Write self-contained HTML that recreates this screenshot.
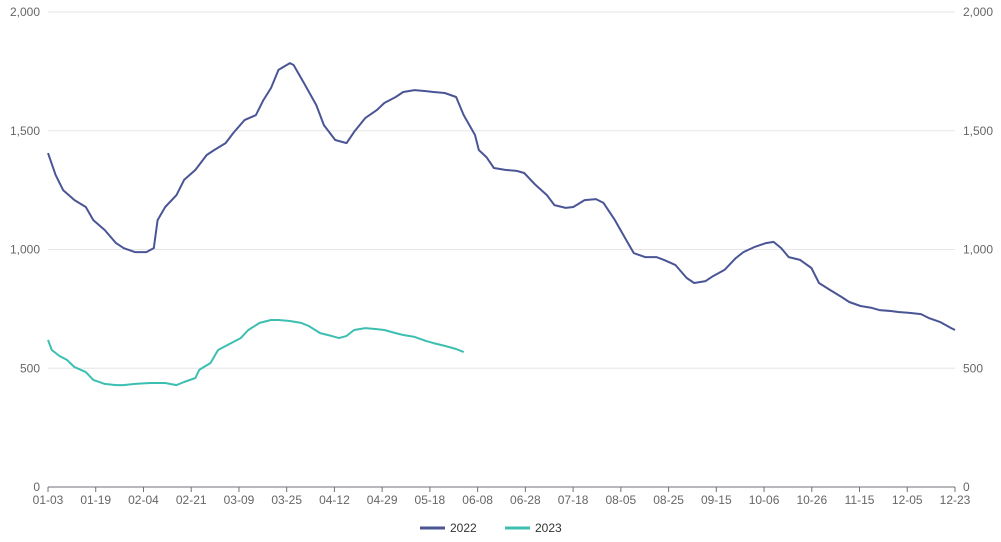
<!DOCTYPE html>
<html><head><meta charset="utf-8">
<style>
html,body{margin:0;padding:0;background:#fff;}
svg{display:block;font-family:"Liberation Sans",sans-serif;}
</style></head>
<body>
<svg id="chart" width="1001" height="542" viewBox="0 0 1001 542"></svg>
<script>
const xLabels=["01-03","01-19","02-04","02-21","03-09","03-25","04-12","04-29","05-18","06-08","06-28","07-18","08-05","08-25","09-15","10-06","10-26","11-15","12-05","12-23"];
const yTicks=[0,500,1000,1500,2000];
const yTickLabels=["0","500","1,000","1,500","2,000"];
const days2022=[0,2,4,7,10,12,15,18,20,23,26,28,29,31,34,36,39,42,44,47,49,52,55,57,59,61,64,65,68,71,73,76,79,81,84,87,89,92,94,97,100,102,105,108,110,113,114,116,118,121,124,126,129,132,134,137,139,142,145,147,150,153,155,158,161,163,166,169,171,174,176,179,182,184,187,190,192,194,196,199,202,204,207,210,212,215,218,220,223,225,228,231,233,236,239,240];
const values2022=[1406,1314,1250,1208,1179,1124,1082,1027,1006,989,989,1006,1124,1179,1229,1293,1335,1398,1419,1448,1490,1545,1566,1629,1680,1756,1785,1777,1693,1608,1524,1461,1448,1495,1554,1587,1617,1642,1663,1671,1667,1663,1659,1642,1566,1482,1419,1389,1343,1335,1331,1322,1272,1229,1187,1175,1179,1208,1212,1196,1124,1040,985,968,968,956,935,880,859,867,888,914,964,989,1011,1027,1032,1006,968,956,922,859,829,800,779,762,754,745,741,737,733,728,712,695,669,661];
const days2023=[0,1,3,5,7,10,12,15,18,20,23,27,31,34,36,39,40,43,45,48,51,53,56,59,61,64,67,69,72,75,77,79,81,84,87,89,92,94,97,100,102,105,108,110];
const values2023=[619,577,552,535,505,484,451,434,429,429,434,438,438,429,442,459,493,522,577,602,627,661,691,703,703,699,691,678,648,636,627,636,661,669,665,661,648,640,632,615,606,594,581,568];
const maxDay=240;
const L=48,R=955,T=12,B=487;
const xs=d=>L+(R-L)*d/maxDay;
const ys=v=>B-(B-T)*v/2000;
const svg=document.getElementById('chart');
const NS='http://www.w3.org/2000/svg';
function mk(t,a){const e=document.createElementNS(NS,t);for(const k in a)e.setAttribute(k,a[k]);svg.appendChild(e);return e;}
yTicks.forEach((v,i)=>{
  if(v>0){const g=mk('line',{x1:L,x2:R,y1:ys(v),y2:ys(v),stroke:'#e6e6e6','stroke-width':1});
  
  }
  const t1=mk('text',{x:40,y:ys(v)+4,'text-anchor':'end','font-size':12,fill:'#666'});t1.textContent=yTickLabels[i];
  
  
  const t2=mk('text',{x:963,y:ys(v)+4,'text-anchor':'start','font-size':12,fill:'#666'});t2.textContent=yTickLabels[i];
  
  
});
const ax=mk('line',{x1:L,x2:R,y1:B,y2:B,stroke:'#6e7079','stroke-width':1});


xLabels.forEach((s,i)=>{
  const x=L+(R-L)*i/(xLabels.length-1);
  const tk=mk('line',{x1:x,x2:x,y1:B,y2:B+5,stroke:'#6e7079'});
  
  
  const t=mk('text',{x:x,y:B+17,'text-anchor':'middle','font-size':12,fill:'#666'});t.textContent=s;
  
  
});
function line(days,vals,color,name){
  const d=days.map((dd,i)=>(i?'L':'M')+xs(dd).toFixed(1)+','+ys(vals[i]).toFixed(1)).join(' ');
  const p=mk('path',{d:d,fill:'none',stroke:color,'stroke-width':2,'stroke-linejoin':'round'});
  
  
}
line(days2022,values2022,'#4a5596','series-2022-line');
line(days2023,values2023,'#3cbfb1','series-2023-line');
[['2022','#4a5596',420],['2023','#3cbfb1',505]].forEach(([n,c,x])=>{
  const l=mk('line',{x1:x,x2:x+25,y1:528,y2:528,stroke:c,'stroke-width':3});
  
  
  const t=mk('text',{x:x+30,y:532,'font-size':12,fill:'#333'});t.textContent=n;
  
  
});
</script>
</body></html>
